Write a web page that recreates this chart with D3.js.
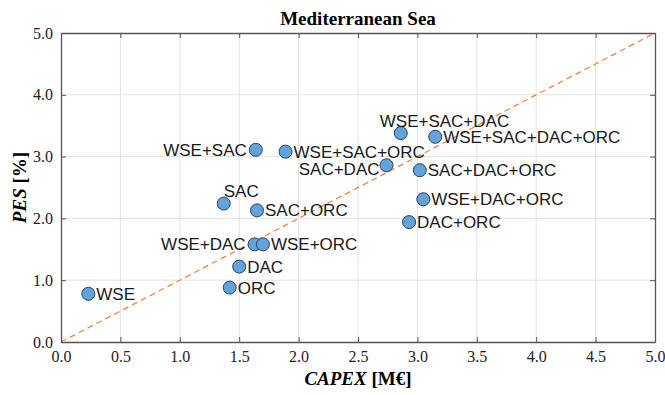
<!DOCTYPE html>
<html>
<head>
<meta charset="utf-8">
<script src="https://cdn.jsdelivr.net/npm/d3@7"></script>
<style>
  body { margin: 0; background: #fff; }
  svg { display: block; }
</style>
</head>
<body>
<div id="chart"></div>
<script>
// data
const names = ["WSE", "ORC", "DAC", "WSE+DAC", "WSE+ORC", "SAC", "SAC+ORC", "WSE+SAC",
    "WSE+SAC+ORC", "SAC+DAC", "WSE+SAC+DAC", "WSE+SAC+DAC+ORC", "SAC+DAC+ORC", "WSE+DAC+ORC", "DAC+ORC"];
const capex = [0.23, 1.42, 1.50, 1.63, 1.70, 1.37, 1.65, 1.64, 1.89, 2.74, 2.86, 3.15, 3.02, 3.05, 2.93];
const pes = [0.78, 0.88, 1.22, 1.58, 1.58, 2.24, 2.13, 3.11, 3.08, 2.86, 3.38, 3.32, 2.78, 2.31, 1.94];
const xTicks = [0, 0.5, 1, 1.5, 2, 2.5, 3, 3.5, 4, 4.5, 5];
const yTicks = [0, 1, 2, 3, 4, 5];

// label placement: [anchor, dx, dy]
const labelPos = {
    "WSE+DAC": ["end", -9, 0],
    "WSE+SAC": ["end", -9, 0],
    "SAC": ["start", 0, -13],
    "SAC+DAC": ["end", -7, 4],
    "WSE+SAC+DAC": ["start", -21, -12]
};

const width = 665, height = 395;
const margin = { top: 33, right: 10, bottom: 53, left: 61 };

const svg = d3.select("#chart").append("svg")
    .attr("width", width)
    .attr("height", height);

const x = d3.scaleLinear().domain([0, 5]).range([margin.left, width - margin.right]);
const y = d3.scaleLinear().domain([0, 5]).range([height - margin.bottom, margin.top]);

// grid
svg.append("g").selectAll("line")
    .data(xTicks.slice(1, -1))
    .enter().append("line")
    .attr("x1", d => x(d)).attr("x2", d => x(d))
    .attr("y1", y(0)).attr("y2", y(5))
    .style("stroke", "#e3e3e3");
svg.append("g").selectAll("line")
    .data(yTicks.slice(1, -1))
    .enter().append("line")
    .attr("y1", d => y(d)).attr("y2", d => y(d))
    .attr("x1", x(0)).attr("x2", x(5))
    .style("stroke", "#e3e3e3");

// diagonal
svg.append("line")
    .attr("x1", x(0)).attr("y1", y(0))
    .attr("x2", x(5)).attr("y2", y(5))
    .style("stroke", "#ef8550")
    .style("stroke-width", 1.3)
    .style("stroke-dasharray", "6,4");

// axes with inward ticks on all sides
const tickFmt = d3.format(".1f");
const axBottom = svg.append("g")
    .attr("transform", `translate(0,${y(0)})`)
    .call(d3.axisBottom(x).tickValues(xTicks).tickFormat(tickFmt).tickSizeInner(-5).tickSizeOuter(0).tickPadding(9));
const axLeft = svg.append("g")
    .attr("transform", `translate(${x(0)},0)`)
    .call(d3.axisLeft(y).tickValues(yTicks).tickFormat(tickFmt).tickSizeInner(-5).tickSizeOuter(0).tickPadding(8));
const axTop = svg.append("g")
    .attr("transform", `translate(0,${y(5)})`)
    .call(d3.axisTop(x).tickValues(xTicks).tickFormat("").tickSizeInner(-5).tickSizeOuter(0));
const axRight = svg.append("g")
    .attr("transform", `translate(${x(5)},0)`)
    .call(d3.axisRight(y).tickValues(yTicks).tickFormat("").tickSizeInner(-5).tickSizeOuter(0));

[axBottom, axLeft, axTop, axRight].forEach(g => {
    g.select(".domain").style("stroke", "#555").style("stroke-width", 1.3);
    g.selectAll(".tick line").style("stroke", "#555");
    g.selectAll("text")
        .style("font-family", "'Liberation Serif', 'Times New Roman', serif")
        .style("font-size", "16px")
        .style("fill", "#222");
});
axLeft.selectAll("text").attr("dy", "0.32em");

// points
svg.append("g").selectAll("circle")
    .data(names)
    .enter().append("circle")
    .attr("cx", (d, i) => x(capex[i]))
    .attr("cy", (d, i) => y(pes[i]))
    .attr("r", 6.5)
    .style("fill", "#62a3dc")
    .style("stroke", "#2c4258")
    .style("stroke-width", 1);

// labels
svg.append("g").selectAll("text")
    .data(names)
    .enter().append("text")
    .attr("x", (d, i) => x(capex[i]) + (labelPos[d] ? labelPos[d][1] : 8))
    .attr("y", (d, i) => y(pes[i]) + (labelPos[d] ? labelPos[d][2] : 0))
    .attr("dy", "0.36em")
    .attr("text-anchor", d => labelPos[d] ? labelPos[d][0] : "start")
    .style("font-family", "'Liberation Sans', Arial, sans-serif")
    .style("font-size", "17px")
    .style("fill", "#1a1a1a")
    .text(d => d);

// title
svg.append("text")
    .attr("x", (x(0) + x(5)) / 2)
    .attr("y", 25)
    .attr("text-anchor", "middle")
    .style("font-family", "'Liberation Serif', 'Times New Roman', serif")
    .style("font-weight", "bold")
    .style("font-size", "19px")
    .text("Mediterranean Sea");

// axis titles
const xt = svg.append("text")
    .attr("x", (x(0) + x(5)) / 2)
    .attr("y", 385)
    .attr("text-anchor", "middle")
    .style("font-family", "'Liberation Serif', 'Times New Roman', serif")
    .style("font-weight", "bold")
    .style("font-size", "19px");
xt.append("tspan").style("font-style", "italic").text("CAPEX");
xt.append("tspan").text(" [M€]");

const yt = svg.append("text")
    .attr("transform", `translate(26,${(y(0) + y(5)) / 2}) rotate(-90)`)
    .attr("text-anchor", "middle")
    .style("font-family", "'Liberation Serif', 'Times New Roman', serif")
    .style("font-weight", "bold")
    .style("font-size", "19px");
yt.append("tspan").style("font-style", "italic").text("PES");
yt.append("tspan").text(" [%]");
</script>
</body>
</html>
